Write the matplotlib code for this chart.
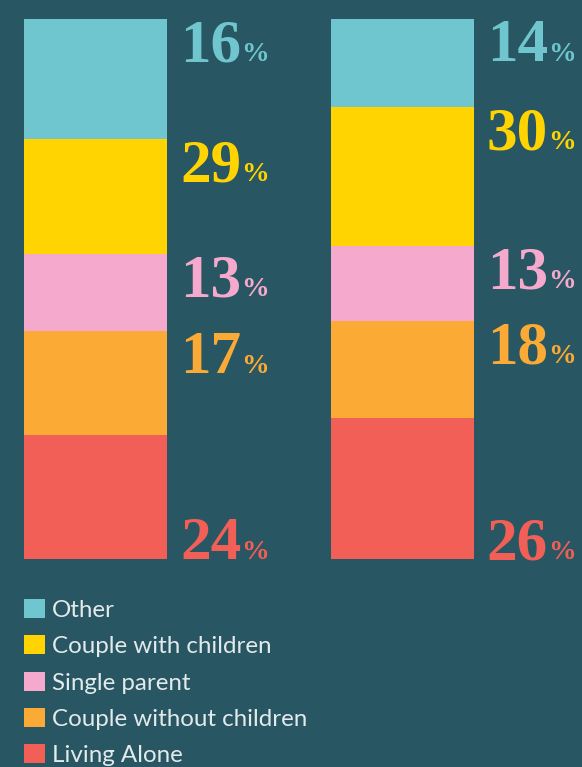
import matplotlib
matplotlib.use("Agg")
import matplotlib.pyplot as plt
from matplotlib.patches import Patch

# categories, top of the stack first (legend order)
categories = ["Other", "Couple with children", "Single parent",
              "Couple without children", "Living Alone"]
colors = ["#6fc6cf", "#ffd400", "#f5aacd", "#fbab35", "#f25f57"]

# printed percentages
labels_left = [16, 29, 13, 17, 24]
labels_right = [14, 30, 13, 18, 26]

# segment sizes as drawn in the picture (share of the bar, %)
drawn_left = [22.2, 21.3, 14.3, 19.3, 22.9]
drawn_right = [16.3, 25.7, 13.9, 18.0, 26.1]

bg = "#285662"
W, H = 582, 767

fig = plt.figure(figsize=(W / 100, H / 100), dpi=100, facecolor=bg)
ax = fig.add_axes([0, (H - 559) / H, 1, 540 / H])
ax.set_facecolor(bg)
ax.set_axis_off()

bar_w = 143 / 306.5
ax.set_xlim(-95.5 / 306.5, (W - 95.5) / 306.5)
ax.set_ylim(0, 100)

num_size = 44
pct_size = 20
cap_pt = 29.5


def draw_stack(x, shares, labels):
    bottom = 0.0
    # draw from the bottom (last category) upwards
    for i in range(len(shares) - 1, -1, -1):
        ax.bar(x, shares[i], width=bar_w, bottom=bottom, color=colors[i],
               linewidth=0, align="center")
        top = bottom + shares[i]
        if i == len(shares) - 1:
            y, dy = bottom, 0
        else:
            y, dy = top, -cap_pt - 1
        t = ax.annotate(str(labels[i]), xy=(x + bar_w / 2, y),
                        xytext=(9.5, dy), textcoords="offset points",
                        ha="left", va="baseline", fontsize=num_size,
                        fontweight="bold", family="Liberation Serif",
                        color=colors[i])
        ax.annotate("%", xy=(1, 0), xycoords=t,
                    xytext=(0, 0.22 * (num_size - pct_size)),
                    textcoords="offset points", ha="left", va="bottom",
                    fontsize=pct_size, fontweight="bold",
                    family="Liberation Serif", color=colors[i])
        bottom = top


draw_stack(0, drawn_left, labels_left)
draw_stack(1, drawn_right, labels_right)

handles = [Patch(facecolor=c, edgecolor="none") for c in colors]
fig.legend(handles, categories, loc="upper left",
           bbox_to_anchor=(24 / W, 1 - 599 / H), frameon=False,
           prop={"family": "Lato", "size": 17.4},
           labelcolor="#e2eaec", handlelength=0.87, handleheight=0.83,
           handletextpad=0.3, labelspacing=0.6, borderpad=0,
           borderaxespad=0)

fig.savefig("out.png", dpi=100, facecolor=bg)
